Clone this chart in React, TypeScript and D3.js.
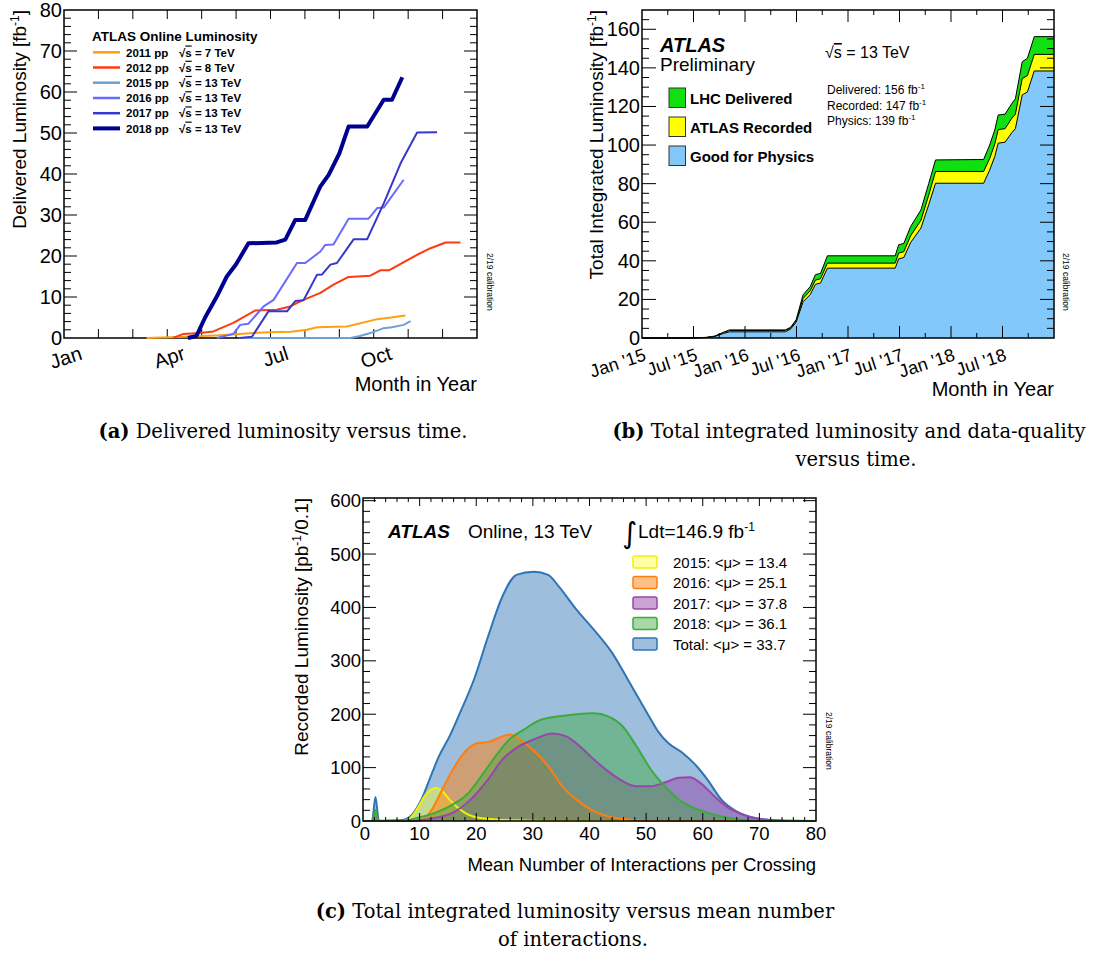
import React from "react";
import * as d3 from "d3";

type Pt = [number, number];

const SANS = "'Liberation Sans', Arial, Helvetica, sans-serif";
const SERIF = "'DejaVu Serif', serif";

// ---------------- Panel (a): delivered luminosity per year (x = months since Jan 1) ----------------
const monthLabelsA = ["Jan", "Apr", "Jul", "Oct"];
const monthLabelPosA = [0, 3, 6, 9];
const yTicksA = [0, 10, 20, 30, 40, 50, 60, 70, 80];
const seriesNamesA = ["2011 pp", "2012 pp", "2015 pp", "2016 pp", "2017 pp", "2018 pp"];
const energiesA = ["7 TeV", "8 TeV", "13 TeV", "13 TeV", "13 TeV", "13 TeV"];
const colorsA = ["#ffa010", "#ff3a10", "#6e9fd6", "#6a6aff", "#3737cc", "#000090"];

const lumi2011: Pt[] = [[2.4, 0], [3.5, 0.3], [4.4, 0.6], [5.0, 0.9], [5.5, 1.2], [5.9, 1.4], [6.6, 1.5], [7.06, 2.0], [7.35, 2.6], [8.22, 2.8], [9.1, 4.6], [9.5, 5.0], [9.92, 5.5]];
const lumi2012: Pt[] = [[3.17, 0], [3.47, 1.0], [3.95, 1.2], [4.34, 1.6], [4.92, 3.7], [5.55, 6.7], [6.18, 6.9], [6.57, 7.7], [6.96, 9.3], [7.45, 11], [7.83, 13], [8.27, 14.9], [8.9, 15.2], [9.19, 16.5], [9.44, 16.5], [10.26, 20.3], [10.65, 21.9], [11.09, 23.3], [11.52, 23.3]];
const lumi2015: Pt[] = [[5.1, 0], [8.32, 0], [8.6, 0.5], [8.9, 1.2], [9.29, 2.4], [9.53, 2.6], [9.87, 3.2], [10.07, 4.1]];
const lumi2016: Pt[] = [[4.44, 0], [4.92, 1.0], [5.12, 3.2], [5.36, 3.5], [5.8, 7.7], [6.09, 9.3], [6.77, 18.3], [7.01, 18.3], [7.45, 21.1], [7.59, 22.7], [7.83, 22.8], [8.27, 29.1], [8.85, 29.1], [9.1, 31.7], [9.29, 31.8], [9.87, 38.6]];
const lumi2017: Pt[] = [[5.1, 0], [5.46, 0.3], [5.94, 6.5], [6.48, 6.5], [6.72, 9.0], [6.96, 9.2], [7.35, 15.4], [7.5, 15.5], [7.74, 17.9], [7.93, 18.3], [8.42, 24.1], [8.81, 24.1], [9.3, 33], [9.78, 42.6], [10.26, 50.1], [10.84, 50.2]];
const lumi2018: Pt[] = [[3.6, 0], [3.85, 0.5], [4.1, 5], [4.44, 10.1], [4.73, 15], [5.0, 18], [5.36, 23.1], [6.18, 23.3], [6.43, 24], [6.72, 28.8], [7.01, 28.8], [7.45, 37], [7.69, 39.8], [8.0, 45], [8.27, 51.6], [8.81, 51.6], [9.29, 58.1], [9.53, 58.1], [9.83, 63.6]];

// ---------------- Panel (b): cumulative luminosity (x = months since Jan 2015) ----------------
const monthLabelsB = ["Jan '15", "Jul '15", "Jan '16", "Jul '16", "Jan '17", "Jul '17", "Jan '18", "Jul '18"];
const monthLabelPosB = [0, 6, 12, 18, 24, 30, 36, 42];
const yTicksB = [0, 20, 40, 60, 80, 100, 120, 140, 160];
const monthsB = [0, 5, 7.5, 8.5, 9.0, 9.5, 10.2, 16.7, 17.3, 17.96, 18.77, 19.6, 20.2, 20.8, 21.6, 29.5, 29.9, 30.5, 31.3, 32.5, 33.4, 34.2, 39.8, 40.5, 41.1, 41.5, 42.3, 43.1, 43.5, 44.3, 44.9, 45.7, 48.0];
const deliveredB = [0, 0, 0.3, 1.0, 2.0, 3.0, 4.2, 4.2, 5.5, 9.5, 22.4, 26.7, 32.8, 33.5, 42.6, 42.6, 48.3, 49, 57.8, 66.4, 80, 92.3, 92.5, 100, 107.8, 115.6, 116, 121.7, 124, 143.2, 145, 156.2, 156.2];
const recordedB = [0, 0, 0.3, 0.9, 1.9, 2.8, 3.9, 3.9, 5.1, 8.9, 20.5, 24.5, 30, 30.7, 38.8, 38.8, 44, 44.7, 53, 61, 74, 86.3, 86.3, 93, 100.5, 108, 108.5, 114, 116, 134.5, 136, 147, 147];
const physicsB = [0, 0, 0.2, 0.8, 1.6, 2.4, 3.2, 3.2, 4.6, 8.2, 18.8, 22.5, 27.8, 28.5, 36.2, 36.2, 41, 41.7, 49.5, 57, 69, 80.2, 80.2, 87, 94, 101, 101.5, 106.5, 108.5, 126, 127.5, 138.4, 138.4];
const legendB = ["LHC Delivered", "ATLAS Recorded", "Good for Physics"];
const colorsB = ["#10e010", "#ffff00", "#82c8fa"];
const totalsB = ["Delivered: 156 fb", "Recorded: 147 fb", "Physics: 139 fb"];

// ---------------- Panel (c): mu distributions ----------------
const xTicksC = [0, 10, 20, 30, 40, 50, 60, 70, 80];
const yTicksC = [0, 100, 200, 300, 400, 500, 600];
const muTotal: Pt[] = [[0, 0], [1.6, 0.5], [2.2, 45], [2.8, 0.5], [5, 1], [7, 2], [8.4, 9], [10.3, 40], [12.2, 90], [13.4, 121], [15.3, 159], [17.1, 202], [19.6, 265], [22.1, 346], [24.6, 420], [27.1, 461], [30.2, 467], [32.7, 461], [34.6, 439], [37.7, 396], [40.8, 358], [44, 315], [47.1, 259], [50.2, 202], [52.1, 168], [53.9, 146], [56.4, 128], [58.9, 103], [60.8, 78], [63.3, 40], [65.8, 19], [68.9, 6], [72, 2], [76, 0.3], [80, 0]];
const mu2018: Pt[] = [[0, 0], [1.6, 0], [2.2, 20], [2.8, 0], [5.3, 0.5], [8, 2], [9.7, 6], [12.8, 15.6], [15.9, 31], [18.4, 50], [20.9, 84], [23.4, 121], [25.9, 153], [28.4, 171], [31.5, 190], [34.6, 196], [37.7, 200], [40.8, 202], [43.3, 196], [45.8, 178], [48.3, 140], [50.8, 97], [53.3, 65], [55.8, 40], [58.3, 25], [60.8, 15.6], [64.5, 6], [68.9, 1], [75, 0], [80, 0]];
const mu2017: Pt[] = [[0, 0], [1.6, 0], [2.2, 20], [2.8, 0], [8, 0.3], [9.7, 1], [12.8, 6], [15.9, 15.6], [19, 40], [22.1, 78], [24.6, 115], [27.1, 137], [30.2, 153], [33.4, 164], [35.8, 159], [38.3, 140], [40.8, 115], [43.3, 93], [45.8, 75], [48.3, 65], [50.8, 65], [53.3, 72], [55.8, 81], [57.7, 82], [59.5, 72], [62, 47], [64.5, 25], [67, 12.5], [70.1, 4], [73.3, 1], [80, 0]];
const mu2016: Pt[] = [[0, 0], [8, 0], [10.3, 2], [12.2, 22], [14, 59], [15.9, 97], [18.4, 134], [20.3, 146], [22.1, 148], [24, 156], [25.9, 162], [27.7, 153], [30.2, 131], [32.7, 103], [35.2, 65], [37.7, 40], [40.2, 22], [42.7, 10.6], [45.8, 4], [48.9, 1], [55, 0], [80, 0]];
const mu2015: Pt[] = [[0, 0], [7, 0], [8.4, 6], [9.7, 25], [10.9, 47], [12.8, 62], [14, 56], [15.3, 40], [17.1, 22], [19.6, 8], [23.4, 3], [28.4, 1], [35, 0], [80, 0]];
const yearsC = ["2015", "2016", "2017", "2018", "Total"];
const meansC = ["13.4", "25.1", "37.8", "36.1", "33.7"];
const lineColorsC = ["#f2f200", "#ff7f0e", "#9a45aa", "#3cab3c", "#2f74b5"];
const fillColorsC = ["rgba(255,255,40,0.42)", "rgba(255,127,14,0.50)", "rgba(150,70,170,0.50)", "rgba(60,170,60,0.45)", "rgba(47,116,181,0.47)"];

type Tick = { p: number; len: number };

function FrameTicks({ x0, x1, y0, y1, xt, yt }: { x0: number; x1: number; y0: number; y1: number; xt: Tick[]; yt: Tick[] }) {
  return (
    <g stroke="#000" strokeWidth={1}>
      {xt.map((t, i) => (
        <g key={"x" + i}>
          <line x1={t.p} x2={t.p} y1={y1} y2={y1 - t.len} />
          <line x1={t.p} x2={t.p} y1={y0} y2={y0 + t.len} />
        </g>
      ))}
      {yt.map((t, i) => (
        <g key={"y" + i}>
          <line x1={x0} x2={x0 + t.len} y1={t.p} y2={t.p} />
          <line x1={x1} x2={x1 - t.len} y1={t.p} y2={t.p} />
        </g>
      ))}
      <rect x={x0} y={y0} width={x1 - x0} height={y1 - y0} fill="none" strokeWidth={1.5} />
    </g>
  );
}

function PanelA() {
  const X0 = 64, X1 = 477, Y0 = 10, Y1 = 338;
  const x = d3.scaleLinear().domain([0, 12]).range([X0, X1]);
  const y = d3.scaleLinear().domain([0, 80]).range([Y1, Y0]);
  const line = d3.line<Pt>().x((d) => x(d[0])).y((d) => y(d[1]));
  const series = [lumi2011, lumi2012, lumi2015, lumi2016, lumi2017, lumi2018];
  const xt: Tick[] = d3.range(1, 12).map((m) => ({ p: x(m), len: 9 }));
  const yt: Tick[] = d3.range(2, 80, 2).map((v) => ({ p: y(v), len: v % 10 === 0 ? 13 : 7 }));
  const rowY = [52.3, 67.5, 82.7, 98, 113.2, 128.4];
  return (
    <g fontFamily={SANS}>
      <FrameTicks x0={X0} x1={X1} y0={Y0} y1={Y1} xt={xt} yt={yt} />
      {series.map((s, i) => (
        <path key={i} d={line(s)!} fill="none" stroke={colorsA[i]} strokeWidth={i === 5 ? 4 : 2} strokeLinejoin="round" />
      ))}
      {yTicksA.map((v) => (
        <text key={v} x={X0 - 2} y={y(v) + 7} fontSize={20} textAnchor="end">{v}</text>
      ))}
      {monthLabelsA.map((l, i) => (
        <text key={l} transform={`translate(${x(monthLabelPosA[i] + 0.5) + 2},359) rotate(-18)`} fontSize={20} textAnchor="end">{l}</text>
      ))}
      <text x={X1} y={391} fontSize={20} textAnchor="end">Month in Year</text>
      <text transform={`translate(26,${Y0}) rotate(-90)`} fontSize={19} textAnchor="end">
        Delivered Luminosity [fb<tspan dy={-7} fontSize={12}>-1</tspan><tspan dy={7}>]</tspan>
      </text>
      <text transform={`translate(487,253) rotate(90)`} fontSize={8.5}>2/19 calibration</text>
      {/* legend */}
      <text x={92} y={41} fontSize={13.5} fontWeight="bold">ATLAS Online Luminosity</text>
      {seriesNamesA.map((n, i) => (
        <g key={n}>
          <line x1={93} x2={120} y1={rowY[i]} y2={rowY[i]} stroke={colorsA[i]} strokeWidth={i === 5 ? 4 : 2.5} />
          <text x={126} y={rowY[i] + 4.2} fontSize={11.5} fontWeight="bold">{n}</text>
          <text x={179} y={rowY[i] + 4.2} fontSize={11.5} fontWeight="bold">
            √<tspan textDecoration="overline">s</tspan> = {energiesA[i]}
          </text>
        </g>
      ))}
    </g>
  );
}

function PanelB() {
  const X0 = 642, X1 = 1054, Y0 = 10, Y1 = 338;
  const x = d3.scaleLinear().domain([0, 48]).range([X0, X1]);
  const y = d3.scaleLinear().domain([0, 170]).range([Y1, Y0]);
  const mk = (vals: number[]) => {
    const area = d3.area<number>().x((_, i) => x(monthsB[i])).y0(y(0)).y1((d) => y(d));
    const line = d3.line<number>().x((_, i) => x(monthsB[i])).y((d) => y(d));
    return { a: area(vals)!, l: line(vals)! };
  };
  const layers = [mk(deliveredB), mk(recordedB), mk(physicsB)];
  const xt: Tick[] = d3.range(3, 48, 3).map((m) => ({ p: x(m), len: m % 6 === 0 ? 12 : 5 }));
  const yt: Tick[] = d3.range(5, 170, 5).map((v) => ({ p: y(v), len: v % 20 === 0 ? 14 : 7 }));
  const boxY = [88, 117, 146];
  return (
    <g fontFamily={SANS}>
      {layers.map((L, i) => (
        <g key={i}>
          <path d={L.a} fill={colorsB[i]} stroke="none" />
          <path d={L.l} fill="none" stroke="#000" strokeWidth={1} />
        </g>
      ))}
      <FrameTicks x0={X0} x1={X1} y0={Y0} y1={Y1} xt={xt} yt={yt} />
      {yTicksB.map((v) => (
        <text key={v} x={X0 - 2} y={y(v) + 7} fontSize={20} textAnchor="end">{v}</text>
      ))}
      {monthLabelsB.map((l, i) => (
        <text key={l} transform={`translate(${x(monthLabelPosB[i]) + 5},360) rotate(-18)`} fontSize={18} textAnchor="end">{l}</text>
      ))}
      <text x={X1} y={396} fontSize={20} textAnchor="end">Month in Year</text>
      <text transform={`translate(603,${Y0}) rotate(-90)`} fontSize={19} textAnchor="end">
        Total Integrated Luminosity [fb<tspan dy={-7} fontSize={12}>-1</tspan><tspan dy={7}>]</tspan>
      </text>
      <text transform={`translate(1063,253) rotate(90)`} fontSize={8.5}>2/19 calibration</text>
      <text x={660} y={51.5} fontSize={20} fontWeight="bold" fontStyle="italic">ATLAS</text>
      <text x={660} y={70.5} fontSize={19}>Preliminary</text>
      <text x={825} y={58} fontSize={16}>
        √<tspan textDecoration="overline">s</tspan> = 13 TeV
      </text>
      {totalsB.map((t, i) => (
        <text key={t} x={827} y={94 + i * 15.5} fontSize={12}>
          {t}<tspan dy={-5} fontSize={8}>-1</tspan>
        </text>
      ))}
      {legendB.map((l, i) => (
        <g key={l}>
          <rect x={669} y={boxY[i]} width={16.5} height={19.5} fill={colorsB[i]} stroke="#333" strokeWidth={1} />
          <text x={690} y={boxY[i] + 15.5} fontSize={15} fontWeight="bold">{l}</text>
        </g>
      ))}
    </g>
  );
}

function PanelC() {
  const X0 = 363, X1 = 816, Y0 = 498, Y1 = 821;
  const x = d3.scaleLinear().domain([0, 80]).range([X0, X1]);
  const y = d3.scaleLinear().domain([0, 605]).range([Y1, Y0]);
  const area = d3.area<Pt>().x((d) => x(d[0])).y0(y(0)).y1((d) => y(d[1])).curve(d3.curveMonotoneX);
  const line = d3.line<Pt>().x((d) => x(d[0])).y((d) => y(d[1])).curve(d3.curveMonotoneX);
  // drawing order: Total, 2015, 2016, 2017, 2018 (fills), then outlines
  const order = [4, 0, 1, 2, 3];
  const data = [mu2015, mu2016, mu2017, mu2018, muTotal];
  const xt: Tick[] = d3.range(2, 80, 2).map((v) => ({ p: x(v), len: v % 10 === 0 ? 8 : 4 }));
  const yt: Tick[] = d3.range(20, 601, 20).map((v) => ({ p: y(v), len: v % 100 === 0 ? 13 : 7 }));
  const rowY = [562, 582.5, 603, 623.5, 644];
  return (
    <g fontFamily={SANS}>
      {order.map((k) => (
        <path key={"f" + k} d={area(data[k])!} fill={fillColorsC[k]} stroke="none" />
      ))}
      {order.map((k) => (
        <path key={"l" + k} d={line(data[k])!} fill="none" stroke={lineColorsC[k]} strokeWidth={2} />
      ))}
      <FrameTicks x0={X0} x1={X1} y0={Y0} y1={Y1} xt={xt} yt={yt} />
      {yTicksC.map((v) => (
        <text key={v} x={X0 - 2} y={y(v) + 6.5} fontSize={18.5} textAnchor="end">{v}</text>
      ))}
      {xTicksC.map((v) => (
        <text key={v} x={x(v) + (v === 0 ? 2 : 0)} y={840} fontSize={18.5} textAnchor="middle">{v}</text>
      ))}
      <text x={X1} y={871} fontSize={18.5} textAnchor="end">Mean Number of Interactions per Crossing</text>
      <text transform={`translate(308,${Y0}) rotate(-90)`} fontSize={19} textAnchor="end">
        Recorded Luminosity [pb<tspan dy={-7} fontSize={12}>-1</tspan><tspan dy={7}>/0.1]</tspan>
      </text>
      <text transform={`translate(826,712) rotate(90)`} fontSize={8.5}>2/19 calibration</text>
      <text x={388} y={538} fontSize={19} fontWeight="bold" fontStyle="italic">ATLAS</text>
      <text x={468} y={538} fontSize={19}>Online, 13 TeV</text>
      <text x={622} y={543} fontSize={29} fontFamily="'DejaVu Sans', sans-serif">∫</text>
      <text x={638} y={538} fontSize={19}>
        Ldt=146.9 fb<tspan dy={-7} fontSize={12}>-1</tspan>
      </text>
      {yearsC.map((yr, i) => (
        <g key={yr}>
          <rect x={633} y={rowY[i] - 6} width={24} height={12} rx={2} fill={fillColorsC[i]} stroke={lineColorsC[i]} strokeWidth={1.5} />
          <text x={673} y={rowY[i] + 5.5} fontSize={15}>{`${yr}: <μ> = ${meansC[i]}`}</text>
        </g>
      ))}
    </g>
  );
}

function Captions() {
  return (
    <g fontFamily={SERIF} fontSize={19.5} textAnchor="middle" fill="#000">
      <text x={283} y={438}>
        <tspan fontWeight="bold">(a)</tspan> Delivered luminosity versus time.
      </text>
      <text x={849} y={438}>
        <tspan fontWeight="bold">(b)</tspan> Total integrated luminosity and data-quality
      </text>
      <text x={856} y={466}>versus time.</text>
      <text x={575} y={918}>
        <tspan fontWeight="bold">(c)</tspan> Total integrated luminosity versus mean number
      </text>
      <text x={573} y={946}>of interactions.</text>
    </g>
  );
}

export default function App() {
  return (
    <svg width={1104} height={959} style={{ position: "absolute", left: 0, top: 0, background: "#fff" }}>
      <rect width={1104} height={959} fill="#fff" />
      <PanelA />
      <PanelB />
      <PanelC />
      <Captions />
    </svg>
  );
}
